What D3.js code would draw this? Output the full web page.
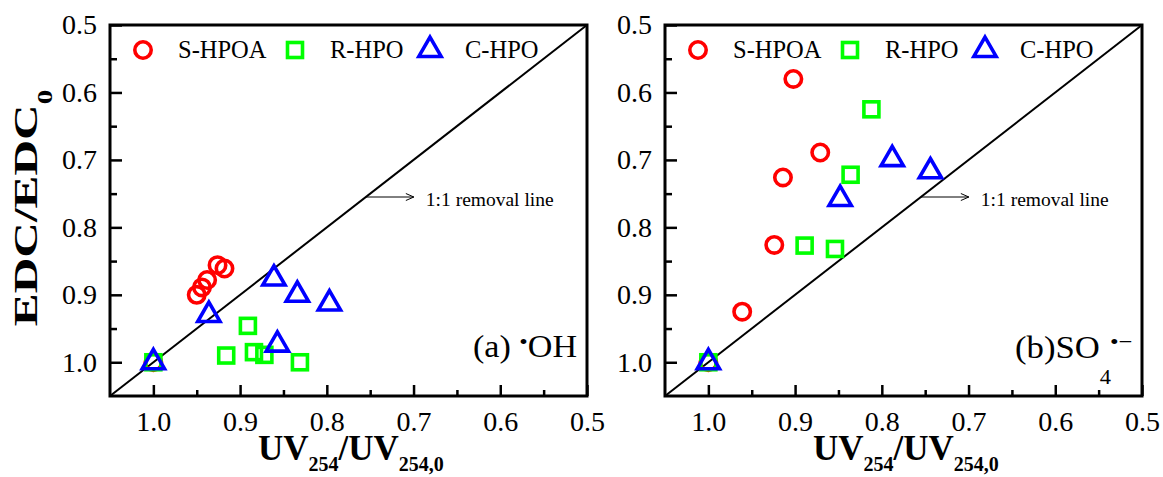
<!DOCTYPE html>
<html lang="en">
<head>
    <meta charset="utf-8">
    <title>EDC vs UV254</title>
    <script src="https://d3js.org/d3.v7.min.js"></script>
    <style>
        body { margin: 0; background: #fff; }
        text { font-family: "Liberation Serif", "Times New Roman", serif; }
    </style>
</head>
<body>

<script>
    // data
    const majorTicks = [1.0, 0.9, 0.8, 0.7, 0.6, 0.5];
    const minorTicks = [0.95, 0.85, 0.75, 0.65, 0.55];
    const seriesNames = ['S-HPOA', 'R-HPO', 'C-HPO'];
    const seriesColors = ['#ff0000', '#00ff00', '#0000ff'];

    // (a) *OH
    const oh_SHPOA_x = [1.0, 0.950, 0.944, 0.938, 0.926, 0.918];
    const oh_SHPOA_y = [1.0, 0.900, 0.889, 0.878, 0.856, 0.861];
    const oh_RHPO_x = [1.0, 0.891, 0.916, 0.884, 0.872, 0.831];
    const oh_RHPO_y = [1.0, 0.946, 0.990, 0.985, 0.989, 1.0];
    const oh_CHPO_x = [1.0, 0.936, 0.861, 0.834, 0.797, 0.857];
    const oh_CHPO_y = [1.0, 0.930, 0.876, 0.900, 0.913, 0.974];

    // (b) SO4*-
    const so4_SHPOA_x = [1.0, 0.961, 0.924, 0.914, 0.902, 0.871];
    const so4_SHPOA_y = [1.0, 0.925, 0.826, 0.726, 0.580, 0.689];
    const so4_RHPO_x = [1.0, 0.889, 0.854, 0.836, 0.812];
    const so4_RHPO_y = [1.0, 0.827, 0.832, 0.722, 0.625];
    const so4_CHPO_x = [1.0, 0.848, 0.788, 0.744];
    const so4_CHPO_y = [1.0, 0.758, 0.699, 0.717];

    const removalLineY = 0.755;

    const svg = d3.select("body").append("svg")
            .attr("width", 1163).attr("height", 477);
    svg.append("rect").attr("width", 1163).attr("height", 477).attr("fill", "#fff");

    function zip(xs, ys) { return xs.map((x, i) => [x, ys[i]]); }

    function drawPanel(left, series, label) {
        const top = 25, bottom = 396, width = 477;
        const x = d3.scaleLinear().domain([1.05, 0.5]).range([left, left + width]);
        const y = d3.scaleLinear().domain([0.5, 1.05]).range([top, bottom]);
        const g = svg.append("g");

        // ticks
        const fmt = d3.format(".1f");
        g.append("g").attr("transform", `translate(${left},0)`)
                .call(d3.axisLeft(y).tickValues(majorTicks).tickSize(-12).tickPadding(13).tickFormat(fmt))
                .call(a => a.select(".domain").remove());
        g.append("g").attr("transform", `translate(${left},0)`)
                .call(d3.axisLeft(y).tickValues(minorTicks).tickSize(-7).tickFormat(""))
                .call(a => a.select(".domain").remove());
        g.append("g").attr("transform", `translate(0,${bottom})`)
                .call(d3.axisBottom(x).tickValues(majorTicks).tickSize(-11).tickPadding(15).tickFormat(fmt))
                .call(a => a.select(".domain").remove());
        g.append("g").attr("transform", `translate(0,${bottom})`)
                .call(d3.axisBottom(x).tickValues(minorTicks).tickSize(-6).tickFormat(""))
                .call(a => a.select(".domain").remove());
        g.selectAll(".tick line").attr("stroke", "#000").attr("stroke-width", 2.5);
        g.selectAll(".tick text").attr("fill", "#000").attr("font-size", 28)
                .style("font-family", '"Liberation Serif", serif');

        // 1:1 line
        g.append("line")
                .attr("x1", x(1.05)).attr("y1", y(1.05))
                .attr("x2", x(0.5)).attr("y2", y(0.5))
                .attr("stroke", "#000").attr("stroke-width", 2);

        // arrow + note
        const ax = x(removalLineY), ay = y(removalLineY);
        g.append("line").attr("x1", ax).attr("y1", ay).attr("x2", ax + 48).attr("y2", ay)
                .attr("stroke", "#000").attr("stroke-width", 1);
        g.append("path").attr("d", `M${ax + 40},${ay - 3.5}L${ax + 48},${ay}L${ax + 40},${ay + 3.5}`)
                .attr("fill", "none").attr("stroke", "#000").attr("stroke-width", 1);
        g.append("text").attr("x", ax + 60).attr("y", ay + 9)
                .attr("font-size", 19.5).text("1:1 removal line");

        // markers
        const sym = [
            s => s.append("circle").attr("r", 8.2),
            s => s.append("rect").attr("x", -7.5).attr("y", -7.5).attr("width", 15).attr("height", 15),
            s => s.append("path").attr("d", d3.symbol().type(d3.symbolTriangle).size(215)())
        ];
        series.forEach((pts, i) => {
            const sel = g.append("g").selectAll("g").data(pts).enter().append("g")
                    .attr("transform", d => `translate(${x(d[0])},${y(d[1])})`);
            sym[i](sel).attr("fill", "none").attr("stroke", seriesColors[i]).attr("stroke-width", 3.6);
        });

        // legend
        const legX = [left + 33, left + 185, left + 320];
        seriesNames.forEach((name, i) => {
            const lg = g.append("g").attr("transform", `translate(${legX[i]},50)`);
            sym[i](lg).attr("fill", "none").attr("stroke", seriesColors[i]).attr("stroke-width", 3.6);
            lg.append("text").attr("x", 35).attr("y", 8).attr("font-size", 24.5).text(name);
        });

        // frame
        g.append("rect").attr("x", left).attr("y", top).attr("width", width).attr("height", bottom - top)
                .attr("fill", "none").attr("stroke", "#000").attr("stroke-width", 3);

        // x title
        const xt = g.append("text").attr("x", left + 148).attr("y", 460)
                .attr("font-weight", "bold").attr("font-size", 35);
        xt.append("tspan").text("UV");
        xt.append("tspan").attr("font-size", 20).attr("dy", 11).text("254");
        xt.append("tspan").attr("dy", -11).text("/UV");
        xt.append("tspan").attr("font-size", 20).attr("dy", 11).text("254,0");

        label(g, left);
        return g;
    }

    drawPanel(110, [zip(oh_SHPOA_x, oh_SHPOA_y), zip(oh_RHPO_x, oh_RHPO_y), zip(oh_CHPO_x, oh_CHPO_y)],
            (g, left) => {
                const t = g.append("text").attr("transform", `translate(${left + 363},357) scale(1.1,1)`)
                        .attr("font-size", 31);
                t.append("tspan").text("(a) ");
                t.append("tspan").attr("font-size", 22).attr("dy", -8).text("•");
                t.append("tspan").attr("dy", 8).text("OH");
            });

    drawPanel(665, [zip(so4_SHPOA_x, so4_SHPOA_y), zip(so4_RHPO_x, so4_RHPO_y), zip(so4_CHPO_x, so4_CHPO_y)],
            (g, left) => {
                const lg = g.append("g").attr("transform", `translate(${left + 350},358) scale(1.12,1)`);
                const t = lg.append("text").attr("font-size", 31).text("(b)SO");
                const w = t.node().getComputedTextLength();
                lg.append("text").attr("x", w).attr("y", 26).attr("font-size", 20).text("4");
                lg.append("text").attr("x", w + 9).attr("y", -9).attr("font-size", 22).text("•−");
            });

    // y title
    const yt = svg.append("text")
            .attr("transform", "translate(37,208) rotate(-90) scale(1.45,1)")
            .attr("text-anchor", "middle").attr("font-weight", "bold").attr("font-size", 34);
    yt.append("tspan").text("EDC/EDC");
    yt.append("tspan").attr("font-size", 20).attr("dy", 15).text("0");

</script>

</body>
</html>
